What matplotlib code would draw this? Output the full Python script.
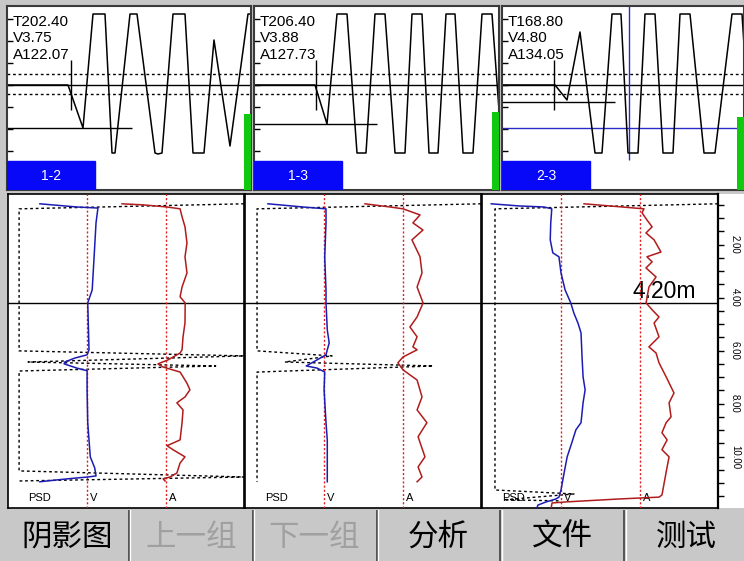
import numpy as np
import matplotlib
matplotlib.use("Agg")
import matplotlib.pyplot as plt
from matplotlib.patches import Rectangle

W, H = 744, 561

# ---- top: first-arrival waveforms per tube pair (t in samples, amplitude in screen units) ----
pairs = ["1-2", "1-3", "2-3"]
t_read = ["202.40", "206.40", "168.80"]
v_read = ["3.75", "3.88", "4.80"]
a_read = ["122.07", "127.73", "134.05"]

wave1_t = [0, 61, 76, 86, 98, 105, 108, 123, 130, 148, 151, 155, 166, 178, 186, 197, 207, 223, 241, 244]
wave1_a = [0, 0, -43, 71, 71, -68, -68, 71, 71, -68, -69, -68, 71, 71, -68, -68, 45, -61, 71, 71]
wave2_t = [0, 61, 73, 83, 93, 103, 112, 121, 131, 141, 151, 158, 168, 175, 184, 192, 201, 209, 219, 228, 238, 245]
wave2_a = [0, 0, -39, 71, 71, -68, -68, 71, 71, -68, -68, 71, 71, -68, -68, 71, 71, -68, -68, 71, 71, -25]
wave3_t = [0, 53, 65, 78, 93, 100, 110, 119, 126, 136, 143, 153, 161, 171, 178, 188, 202, 213, 230, 240, 242]
wave3_a = [0, 0, -15, 53, -68, -68, 71, 71, -68, -68, 71, 71, -68, -68, 71, 71, -68, -68, 71, 71, 40]

gate_t = [64, 62, 52]          # picked first arrival
gate_level = [-43, -39, -17]   # picked amplitude level
gate_len = [125, 123, 113]
energy = [76, 78, 73]          # green bar height
cursor3_t = 127
cursor3_a = -43

# ---- bottom: profiles vs depth (m) ----
depth_lim = (11.94, 0.09)
cursor_depth = 4.20

v1_depth = [0.46, 0.58, 0.62, 1.18, 2.46, 3.71, 4.20, 5.97, 6.16, 6.28, 6.43, 6.50, 6.66, 6.76,
            7.48, 8.72, 10.01, 10.43, 10.73, 10.77, 10.84, 10.92, 10.95]
v1 = [3.00, 3.58, 3.91, 3.88, 3.85, 3.82, 3.75, 3.77, 3.74, 3.55, 3.39, 3.38, 3.58, 3.74,
      3.74, 3.75, 3.79, 3.86, 3.88, 3.75, 3.43, 3.11, 3.00]
a1_depth = [0.46, 0.50, 0.58, 0.65, 0.95, 1.33, 1.94, 2.46, 3.07, 3.60, 3.97, 4.20, 4.95, 5.48,
            5.97, 6.09, 6.35, 6.50, 6.62, 6.81, 7.23, 7.48, 7.75, 7.97, 8.24, 8.72, 9.37, 9.59,
            9.74, 10.01, 10.24, 10.62, 10.77, 10.84, 10.92]
a1 = [96.4, 104.9, 114.7, 120.0, 120.8, 122.0, 122.8, 122.0, 122.8, 120.8, 120.0, 122.07, 122.0, 121.2,
      120.8, 120.0, 115.1, 111.0, 113.1, 120.0, 122.8, 124.0, 122.0, 118.7, 121.2, 120.8, 120.0, 114.7,
      117.1, 122.0, 120.0, 118.7, 115.9, 113.1, 113.9]
psd1_depth = [0.46, 0.65, 6.01, 6.20, 6.43, 6.58, 6.77, 10.54, 10.77, 10.92]
psd1 = [100, 4.7, 4.7, 100, 8.5, 88, 4.7, 4.7, 100, 4.7]

v2_depth = [0.46, 0.58, 0.65, 1.18, 2.46, 3.71, 4.20, 5.22, 5.71, 5.97, 6.16, 6.35, 6.58, 6.66,
            6.81, 7.48, 8.72, 9.37, 10.01, 10.95]
v2 = [2.97, 3.52, 3.88, 3.88, 3.86, 3.88, 3.88, 3.90, 3.93, 3.90, 3.88, 3.74, 3.57, 3.74,
      3.86, 3.85, 3.88, 3.90, 3.90, 3.90]
a2_depth = [0.46, 0.58, 0.65, 0.88, 1.18, 1.45, 1.82, 2.46, 3.07, 3.60, 4.20, 4.73, 5.11, 5.48,
            5.86, 5.97, 6.24, 6.46, 6.73, 7.11, 7.75, 8.24, 8.72, 9.25, 10.01, 10.39, 10.77, 10.95]
a2 = [104.1, 114.3, 119.6, 126.5, 123.6, 127.7, 123.2, 126.5, 127.3, 125.3, 127.73, 125.3, 122.4, 125.3,
      123.6, 125.3, 119.6, 117.5, 119.6, 125.3, 127.3, 125.3, 129.3, 125.7, 128.5, 125.7, 127.3, 125.3]
psd2_depth = [0.46, 0.65, 6.01, 6.20, 6.43, 6.58, 6.81, 10.95]
psd2 = [100, 5.1, 5.1, 36.9, 16.9, 79.7, 5.1, 5.1]

v3_depth = [0.46, 0.54, 0.58, 0.65, 1.18, 1.82, 2.31, 2.46, 3.07, 3.71, 4.20, 4.58, 4.96, 5.33,
            6.24, 6.99, 7.48, 7.97, 8.72, 8.99, 9.48, 10.01, 10.62, 11.26, 11.53, 11.60, 11.71,
            11.83, 11.94]
v3 = [3.25, 3.79, 4.28, 4.43, 4.41, 4.40, 4.45, 4.57, 4.61, 4.69, 4.80, 4.86, 4.94, 5.00,
      5.02, 5.04, 5.08, 5.04, 5.00, 4.90, 4.82, 4.73, 4.67, 4.61, 4.57, 4.51, 4.32, 4.16, 4.14]
a3_depth = [0.46, 0.58, 0.65, 0.80, 1.07, 1.33, 1.56, 1.82, 2.28, 2.46, 2.65, 2.88, 3.22, 3.60,
            4.20, 4.46, 4.73, 4.96, 5.48, 5.86, 6.09, 6.46, 6.99, 7.60, 7.97, 8.50, 8.72, 9.10,
            9.37, 9.74, 10.01, 10.39, 11.45, 11.53, 11.60, 11.71, 11.75, 11.94]
a3 = [108.8, 124.3, 133.2, 132.4, 134.4, 136.5, 134.0, 137.3, 140.1, 134.4, 136.5, 134.0, 138.1, 135.2,
      134.05, 136.5, 139.3, 137.3, 139.3, 135.2, 138.1, 139.3, 142.2, 145.4, 143.4, 144.2, 142.2, 140.5,
      142.6, 140.5, 143.4, 142.6, 140.5, 139.3, 123.0, 101.5, 95.8, 95.4]
psd3_depth = [0.46, 0.65, 11.26, 11.41, 11.63, 11.67]
psd3 = [100, 5.5, 5.5, 39, 9.3, 32.6]

v_lim = [(2.5, 6.2), (2.61, 6.31), (3.07, 7.67)]
a_lim = [(50, 146), (55.3, 151.3), (67.3, 163.3)]
v_crit = [3.74, 3.85, 4.61]
a_crit = [114.3, 119.6, 131.6]

depth_labels = [2, 4, 6, 8, 10]

buttons = ["阴影图", "上一组", "下一组", "分析", "文件", "测试"]
enabled = [True, False, False, True, True, True]


def px_rect(x, y, w, h):
    return [x / W, 1 - (y + h) / H, w / W, h / H]


NUM = ["Liberation Sans", "DejaVu Sans"]
fig = plt.figure(figsize=(W / 100, H / 100), dpi=100, facecolor="#c8c8c8")

# ---------------- top waveform panels ----------------
top_rects = [(7, 6, 244, 184), (254, 6, 245, 184), (502, 6, 242, 184)]
waves = [(wave1_t, wave1_a), (wave2_t, wave2_a), (wave3_t, wave3_a)]
for i, (x, y, w, h) in enumerate(top_rects):
    ax = fig.add_axes(px_rect(x, y, w, h))
    ax.set_facecolor("white")
    ax.set_xlim(0, w)
    ax.set_ylim(-105, 79)
    for s in ax.spines.values():
        s.set_color("#3a3a3a")
        s.set_linewidth(1.5)
    ax.set_xticks([])
    ax.set_yticks([-88, -66, -44, -22, 0, 22, 44, 66])
    ax.tick_params(axis="y", direction="in", length=4, width=1, labelleft=False)

    ax.axhline(0, color="black", lw=1)
    ax.axhline(11, color="black", lw=1, ls=(0, (2, 2)))
    ax.axhline(-9, color="black", lw=1, ls=(0, (2, 2)))

    if i == 2:
        ax.axhline(cursor3_a, color="#2a2ac8", lw=1)
        ax.vlines(cursor3_t, -75, 79, color="#2a2ac8", lw=1)

    ax.plot(waves[i][0], waves[i][1], color="black", lw=1.1)
    ax.hlines(gate_level[i], 0, gate_len[i], color="black", lw=1)
    ax.vlines(gate_t[i], -25, 25, color="black", lw=1)

    ax.bar([w - 3.5], [energy[i]], bottom=-105, width=7, color="#10c810", zorder=4)
    ax.add_patch(Rectangle((0, -105), 88, 29, color="#0808f8", zorder=4))
    ax.text(44, -90.5, pairs[i], color="white", ha="center", va="center",
            fontsize=10, family=NUM, zorder=5)

    for j, s in enumerate(["T" + t_read[i], "V" + v_read[i], "A" + a_read[i]]):
        ax.text(6, 63 - 16.5 * j, s, ha="left", va="center", fontsize=11,
                family=NUM, color="black")

# ---------------- bottom profile panels ----------------
bot_rects = [(8, 194, 236, 314), (245, 194, 236, 314), (482, 194, 236, 314)]
vs = [(v1_depth, v1), (v2_depth, v2), (v3_depth, v3)]
as_ = [(a1_depth, a1), (a2_depth, a2), (a3_depth, a3)]
psds = [(psd1_depth, psd1), (psd2_depth, psd2), (psd3_depth, psd3)]
for i, (x, y, w, h) in enumerate(bot_rects):
    ax = fig.add_axes(px_rect(x, y, w, h))
    ax.set_facecolor("white")
    ax.set_xlim(0, 100)
    ax.set_ylim(*depth_lim)
    ax.set_xticks([])
    ax.set_yticks([])
    for s in ax.spines.values():
        s.set_color("black")
        s.set_linewidth(1.2)
    ax.axhline(cursor_depth, color="black", lw=1)
    ax.plot(psds[i][1], psds[i][0], color="black", lw=1, ls=(0, (2, 2)))

    ax_v = ax.twiny()
    ax_v.set_xlim(*v_lim[i])
    ax_v.axis("off")
    ax_v.axvline(v_crit[i], color="#e02020", lw=1, ls=(0, (1.5, 1.5)))
    ax_v.plot(vs[i][1], vs[i][0], color="#1c1cb4", lw=1.1)

    ax_a = ax.twiny()
    ax_a.set_xlim(*a_lim[i])
    ax_a.axis("off")
    ax_a.axvline(a_crit[i], color="#e02020", lw=1, ls=(0, (1.5, 1.5)))
    ax_a.plot(as_[i][1], as_[i][0], color="#b01c1c", lw=1.1)

    ty = 11.56
    ax.text(8.5, ty, "PSD", fontsize=8, family=NUM, va="center", ha="left")
    ax.text(34.8, ty, "V", fontsize=8, family=NUM, va="center", ha="left")
    ax.text(68.3, ty, "A", fontsize=8, family=NUM, va="center", ha="left")

    if i == 2:
        ax.text(90.7, cursor_depth, f"{cursor_depth:.2f}m", ha="right", va="bottom",
                fontsize=16.5, family=NUM, zorder=6)

# depth axis column
ax_d = fig.add_axes(px_rect(718, 194, 26, 314))
ax_d.set_facecolor("white")
ax_d.set_xlim(0, 1)
ax_d.set_ylim(*depth_lim)
for k, s in ax_d.spines.items():
    s.set_visible(k == "left")
ax_d.spines["left"].set_linewidth(1.6)
ax_d.set_xticks([])
ax_d.set_yticks(np.arange(0.5, 12, 0.5))
ax_d.tick_params(axis="y", direction="in", length=4, width=1, labelleft=False)
for d in depth_labels:
    ax_d.text(0.65, d, f"{d:.2f}", rotation=-90, ha="center", va="center",
              fontsize=7, family=NUM)

# ---------------- buttons ----------------
ax_b = fig.add_axes([5 / W, 0, 743 / W, 51 / H])
ax_b.set_xlim(0, len(buttons))
ax_b.set_ylim(0, 1)
ax_b.set_facecolor("#c8c8c8")
ax_b.axis("off")
for i, lab in enumerate(buttons):
    if i > 0:
        ax_b.axvline(i, color="#4a4a4a", lw=1.3)
        ax_b.axvline(i + 0.013, color="white", lw=1.0)
    ax_b.text(i + 0.5, 0.47, lab, ha="center", va="center", fontsize=22,
              family=["Noto Sans CJK SC", "DejaVu Sans"],
              color="black" if enabled[i] else "#a0a0a0")

fig.savefig("out.png", dpi=100, facecolor=fig.get_facecolor())
